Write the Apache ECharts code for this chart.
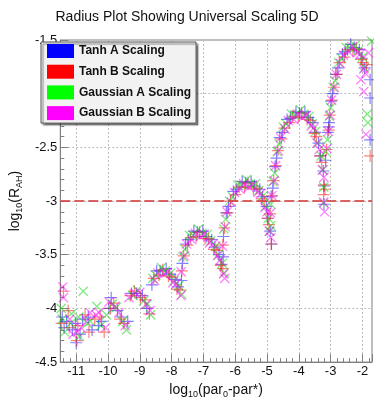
<!DOCTYPE html>
<html><head><meta charset="utf-8">
<script src="https://cdn.jsdelivr.net/npm/echarts@6/dist/echarts.min.js"></script>
<style>html,body{margin:0;padding:0;background:#fff}#c{width:374px;height:404px}</style>
</head><body><div id="c"></div>
<script>
const titleText = 'Radius Plot Showing Universal Scaling 5D';
const seriesNames = ['Tanh A Scaling', 'Tanh B Scaling', 'Gaussian A Scaling', 'Gaussian B Scaling'];
const legendColors = ['#0000ff', '#ff0000', '#00ff00', '#ff00ff'];
const markerColors = ['rgba(0,0,255,0.62)', 'rgba(255,0,0,0.62)', 'rgba(0,210,0,0.62)', 'rgba(255,0,255,0.62)'];
const thresholdY = -3;

const tanhA = [[-11.44,-4.08],[-11.30,-4.12],[-11.02,-4.14],[-10.80,-4.10],[-10.50,-4.20],[-10.20,-4.12],[-9.90,-3.90],[-9.58,-4.08],[-9.26,-3.86],[-8.92,-3.88],[-8.62,-3.78],[-8.36,-3.65],[-8.06,-3.68],[-7.80,-3.80],[-7.66,-3.58],[-7.47,-3.36],[-7.19,-3.29],[-6.91,-3.33],[-6.64,-3.43],[-6.43,-3.59],[-6.37,-3.33],[-6.21,-3.05],[-5.95,-2.89],[-5.67,-2.83],[-5.39,-2.86],[-5.14,-2.96],[-4.97,-3.16],[-4.86,-3.40],[-4.82,-2.88],[-4.70,-2.60],[-4.52,-2.36],[-4.26,-2.23],[-3.98,-2.18],[-3.70,-2.22],[-3.49,-2.36],[-3.32,-2.58],[-3.21,-2.86],[-3.16,-2.62],[-3.05,-2.27],[-2.94,-2.00],[-2.77,-1.76],[-2.54,-1.61],[-2.26,-1.57],[-2.02,-1.67],
  [-11.0,-4.32],[-1.76,-1.87],[-1.76,-2.04],[-1.76,-2.43],[-3.06,-2.31],
  [-8.47,-3.65],[-8.17,-3.63],[-7.89,-3.73],[-7.69,-3.74],[-7.56,-3.40],[-7.30,-3.28],[-7.02,-3.28],[-6.74,-3.36],[-6.51,-3.50],[-6.38,-3.52],[-6.28,-3.11],[-6.06,-2.91],[-5.78,-2.82],[-5.50,-2.82],[-5.23,-2.89],[-5.02,-3.05],[-4.90,-3.28],[-4.87,-2.96],[-4.75,-2.68],[-4.60,-2.41],[-4.37,-2.24],[-4.09,-2.17],[-3.81,-2.17],[-3.56,-2.27],[-3.38,-2.46],[-3.23,-2.72],[-3.21,-3.03],[-3.09,-2.36],[-2.99,-2.07],[-2.84,-1.82],[-2.63,-1.63],[-2.37,-1.54],[-2.10,-1.59],[-1.93,-1.76],
  [-11.38,-4.18],[-11.12,-4.20],[-10.88,-4.24],[-10.62,-4.08],[-10.30,-4.16],[-9.97,-4.00],[-9.70,-4.02],[-9.38,-4.12],[-9.10,-3.86],[-8.78,-4.00]];
const tanhB = [[-11.40,-3.84],[-11.22,-4.18],[-10.98,-4.30],[-10.72,-4.06],[-10.42,-4.10],[-10.12,-4.22],[-9.82,-3.95],[-9.50,-4.14],[-9.17,-3.84],[-8.84,-3.92],[-8.56,-3.72],[-8.28,-3.64],[-7.99,-3.71],[-7.74,-3.83],[-7.62,-3.51],[-7.40,-3.34],[-7.12,-3.29],[-6.84,-3.35],[-6.58,-3.46],[-6.39,-3.63],[-6.34,-3.25],[-6.15,-3.00],[-5.88,-2.87],[-5.60,-2.83],[-5.32,-2.88],[-5.09,-3.00],[-4.94,-3.22],[-4.90,-3.12],[-4.79,-2.81],[-4.66,-2.53],[-4.46,-2.32],[-4.19,-2.21],[-3.91,-2.18],[-3.64,-2.25],[-3.45,-2.40],[-3.28,-2.64],[-3.22,-2.94],[-3.13,-2.52],[-3.03,-2.20],[-2.90,-1.94],[-2.72,-1.71],[-2.47,-1.59],[-2.19,-1.58],[-1.98,-1.71],
  [-1.76,-2.58],[-1.87,-1.73],
  [-8.40,-3.69],[-8.10,-3.70],[-7.83,-3.82],[-7.68,-3.65],[-7.50,-3.41],[-7.23,-3.33],[-6.95,-3.35],[-6.67,-3.45],[-6.46,-3.60],[-6.39,-3.41],[-6.24,-3.11],[-5.99,-2.94],[-5.71,-2.87],[-5.43,-2.89],[-5.17,-2.98],[-4.99,-3.16],[-4.87,-3.40],[-4.84,-2.95],[-4.72,-2.67],[-4.55,-2.42],[-4.30,-2.27],[-4.02,-2.22],[-3.74,-2.24],[-3.51,-2.37],[-3.34,-2.58],[-3.21,-2.85],[-3.18,-2.89],[-3.06,-2.34],[-2.96,-2.06],[-2.80,-1.82],[-2.57,-1.66],[-2.30,-1.60],[-2.05,-1.68],
  [-11.46,-4.14],[-11.25,-4.02],[-10.95,-4.16],[-10.60,-4.22],[-10.25,-4.08],[-9.92,-4.00],[-9.62,-4.10],[-9.30,-3.88],[-8.98,-3.90],[-8.70,-4.05]];
const gaussA = [[-11.36,-4.22],[-11.15,-4.05],[-10.92,-4.08],[-10.78,-3.84],[-10.65,-4.14],[-10.35,-3.98],[-10.05,-4.06],[-9.74,-3.99],[-9.42,-4.20],[-9.08,-3.83],[-8.76,-3.96],[-8.50,-3.69],[-8.20,-3.65],[-7.92,-3.74],[-7.68,-3.87],[-7.58,-3.45],[-7.33,-3.32],[-7.05,-3.30],[-6.77,-3.37],[-6.53,-3.50],[-6.35,-3.67],[-6.30,-3.17],[-6.09,-2.96],[-5.81,-2.85],[-5.53,-2.84],[-5.26,-2.90],[-5.04,-3.05],[-4.91,-3.28],[-4.88,-3.03],[-4.76,-2.74],[-4.62,-2.47],[-4.40,-2.28],[-4.12,-2.20],[-3.84,-2.19],[-3.58,-2.28],[-3.40,-2.46],[-3.24,-2.71],[-3.22,-3.02],[-3.10,-2.43],[-3.00,-2.13],[-2.86,-1.88],[-2.66,-1.67],[-2.40,-1.57],[-2.13,-1.60],[-1.94,-1.76],
  [-1.71,-1.51],[-1.85,-2.19],[-1.83,-2.27],[-11.47,-4.00],
  [-8.59,-3.72],[-8.32,-3.62],[-8.03,-3.67],[-7.77,-3.79],[-7.64,-3.52],[-7.44,-3.32],[-7.16,-3.26],[-6.88,-3.31],[-6.61,-3.42],[-6.41,-3.58],[-6.36,-3.26],[-6.18,-3.00],[-5.92,-2.85],[-5.64,-2.80],[-5.36,-2.84],[-5.12,-2.95],[-4.96,-3.16],[-4.88,-3.23],[-4.81,-2.82],[-4.68,-2.54],[-4.49,-2.31],[-4.23,-2.19],[-3.95,-2.15],[-3.67,-2.21],[-3.47,-2.35],[-3.30,-2.58],[-3.22,-2.87],[-3.15,-2.54],[-3.04,-2.21],[-2.92,-1.94],[-2.75,-1.71],[-2.51,-1.57],[-2.23,-1.55],[-2.00,-1.66],
  [-11.44,-4.10],[-11.18,-4.14],[-10.90,-4.26],[-10.55,-4.12],[-10.22,-4.16],[-9.86,-3.96],[-9.54,-4.12],[-9.22,-3.88],[-8.88,-3.93],[-8.66,-4.06]];
const gaussB = [[-11.42,-3.80],[-11.10,-4.24],[-10.85,-4.18],[-10.56,-4.04],[-10.28,-4.04],[-9.97,-3.94],[-9.66,-4.04],[-9.34,-3.90],[-9.00,-3.85],[-8.68,-4.02],[-8.43,-3.67],[-8.13,-3.66],[-7.86,-3.77],[-7.70,-3.66],[-7.53,-3.40],[-7.26,-3.30],[-6.98,-3.31],[-6.70,-3.40],[-6.48,-3.55],[-6.40,-3.42],[-6.26,-3.10],[-6.02,-2.92],[-5.74,-2.84],[-5.46,-2.85],[-5.20,-2.93],[-5.00,-3.10],[-4.88,-3.34],[-4.85,-2.95],[-4.73,-2.67],[-4.57,-2.41],[-4.33,-2.25],[-4.05,-2.19],[-3.77,-2.20],[-3.53,-2.32],[-3.36,-2.52],[-3.21,-2.78],[-3.19,-3.10],[-3.07,-2.35],[-2.97,-2.06],[-2.82,-1.82],[-2.60,-1.64],[-2.33,-1.56],[-2.07,-1.63],[-1.91,-1.81],
  [-1.81,-1.62],[-2.05,-1.87],[-1.96,-1.98],[-1.89,-2.38],[-6.33,-3.72],
  [-8.53,-3.74],[-8.24,-3.68],[-7.96,-3.76],[-7.71,-3.88],[-7.60,-3.51],[-7.37,-3.36],[-7.09,-3.33],[-6.81,-3.39],[-6.56,-3.51],[-6.37,-3.68],[-6.32,-3.24],[-6.12,-3.01],[-5.85,-2.89],[-5.57,-2.87],[-5.29,-2.92],[-5.07,-3.06],[-4.93,-3.28],[-4.89,-3.11],[-4.78,-2.81],[-4.64,-2.53],[-4.43,-2.33],[-4.16,-2.24],[-3.88,-2.22],[-3.61,-2.30],[-3.43,-2.46],[-3.26,-2.71],[-3.22,-3.01],[-3.12,-2.51],[-3.02,-2.20],[-2.88,-1.94],[-2.69,-1.72],[-2.44,-1.61],[-2.16,-1.62],[-1.96,-1.77],
  [-11.40,-3.90],[-11.20,-4.10],[-10.96,-4.22],[-10.68,-4.12],[-10.38,-4.06],[-10.08,-4.18],[-9.78,-3.98],[-9.46,-4.16],[-9.14,-3.86],[-8.80,-3.96]];

const seriesData = [tanhA, tanhB, gaussA, gaussB];
const FONT = 'Liberation Sans, Arial, Helvetica, sans-serif';
const PLUS = 'path://M0,4.5H10V5.5H0Z M4.5,0H5.5V10H4.5Z';

const chart = echarts.init(document.getElementById('c'), null, {renderer: 'canvas'});
const series = seriesData.map((d, i) => {
  const isX = i >= 2;
  const s = {
    name: seriesNames[i], type: 'scatter', data: d,
    symbol: PLUS, symbolSize: isX ? 13 : 12, symbolRotate: isX ? 45 : 0,
    itemStyle: {color: markerColors[i]},
    emphasis: {disabled: true}, silent: true
  };
  if (i === 3) {
    s.markLine = {silent: true, symbol: 'none', label: {show: false},
      lineStyle: {color: 'rgba(215,70,70,0.85)', width: 2, type: [10, 4]},
      data: [{yAxis: thresholdY}]};
  }
  return s;
});

chart.setOption({
  animation: false,
  backgroundColor: '#ffffff',
  title: {text: titleText, left: 'center', top: 5,
    textStyle: {fontFamily: FONT, fontSize: 14, fontWeight: 'normal', color: '#111'}},
  grid: {left: 41, right: 2, top: 40, bottom: 31, show: true, borderColor: '#808080', borderWidth: 1},
  legend: {
    left: 41, top: 42, orient: 'vertical', itemWidth: 27, itemHeight: 14, itemGap: 6.7,
    padding: [2, 5, 3, 6], backgroundColor: '#f2f2f2', borderColor: '#555', borderWidth: 1,
    shadowColor: 'rgba(0,0,0,0.45)', shadowOffsetX: 2, shadowOffsetY: 2, shadowBlur: 1,
    selectedMode: false,
    textStyle: {fontFamily: FONT, fontSize: 12, fontWeight: 'bold', color: '#111'},
    data: seriesNames.map((n, i) => ({name: n, icon: 'rect', itemStyle: {color: legendColors[i], opacity: 1, borderWidth: 0}}))
  },
  xAxis: {
    type: 'value', min: -11.5, max: -1.7, splitNumber: 10,
    axisLine: {show: true, onZero: false, lineStyle: {color: '#808080'}},
    axisTick: {show: true, inside: true, length: 8, lineStyle: {color: '#808080'}},
    minorTick: {show: true, splitNumber: 5, length: 4, lineStyle: {color: '#808080'}},
    axisLabel: {showMinLabel: false, showMaxLabel: false, margin: 3, fontFamily: FONT, fontSize: 13, color: '#111'},
    splitLine: {show: true, lineStyle: {color: '#bcbcbc', type: [2, 2]}},
    name: '{a|log}{s|10}{a|(par}{s|0}{a|-par*)}', nameLocation: 'middle', nameGap: 17,
    nameTextStyle: {rich: {
      a: {fontFamily: FONT, fontSize: 14, color: '#111', lineHeight: 16, verticalAlign: 'top'},
      s: {fontFamily: FONT, fontSize: 9, color: '#111', lineHeight: 9, verticalAlign: 'bottom'}}}
  },
  yAxis: {
    type: 'value', min: -4.5, max: -1.5, interval: 0.5,
    axisLine: {show: true, onZero: false, lineStyle: {color: '#808080'}},
    axisTick: {show: true, inside: true, length: 8, lineStyle: {color: '#808080'}},
    minorTick: {show: true, splitNumber: 5, length: 4, lineStyle: {color: '#808080'}},
    axisLabel: {margin: 3, fontFamily: FONT, fontSize: 13, color: '#111'},
    splitLine: {show: true, lineStyle: {color: '#bcbcbc', type: [2, 2]}},
    name: '{a|log}{s|10}{a|(R}{s|AH}{a|)}', nameLocation: 'middle', nameGap: 20, nameRotate: 90,
    nameTextStyle: {rich: {
      a: {fontFamily: FONT, fontSize: 14, color: '#111', lineHeight: 16, verticalAlign: 'top'},
      s: {fontFamily: FONT, fontSize: 9, color: '#111', lineHeight: 9, verticalAlign: 'bottom'}}}
  },
  series: series
});
</script></body></html>
